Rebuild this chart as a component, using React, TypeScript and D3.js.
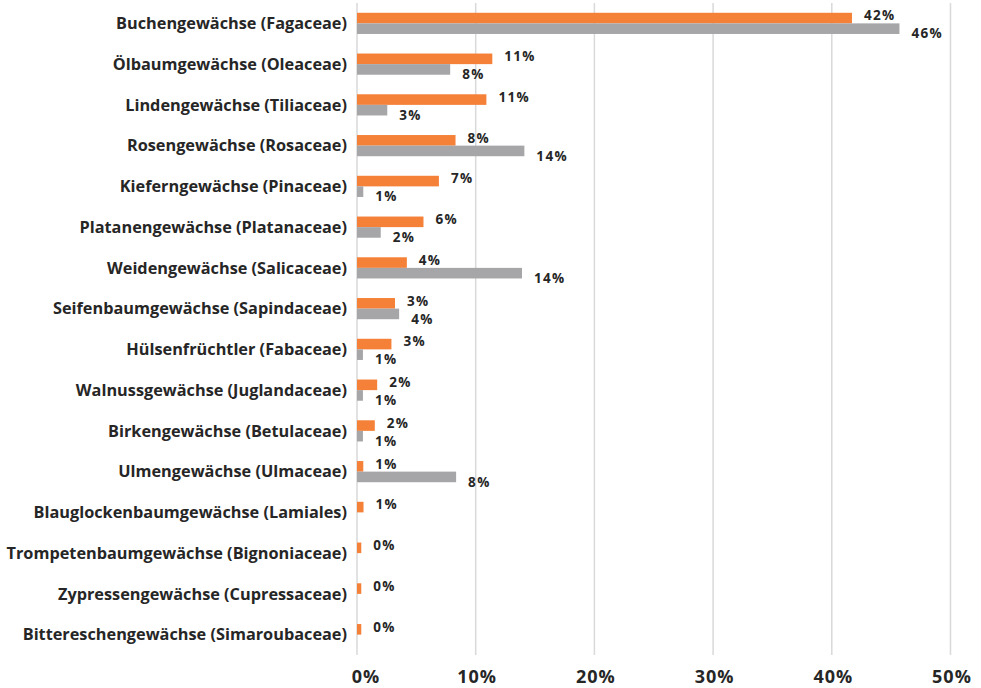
import { useEffect, useRef } from "react";
import * as d3 from "d3";

const categories = [
  "Buchengewächse (Fagaceae)",
  "Ölbaumgewächse (Oleaceae)",
  "Lindengewächse (Tiliaceae)",
  "Rosengewächse (Rosaceae)",
  "Kieferngewächse (Pinaceae)",
  "Platanengewächse (Platanaceae)",
  "Weidengewächse (Salicaceae)",
  "Seifenbaumgewächse (Sapindaceae)",
  "Hülsenfrüchtler (Fabaceae)",
  "Walnussgewächse (Juglandaceae)",
  "Birkengewächse (Betulaceae)",
  "Ulmengewächse (Ulmaceae)",
  "Blauglockenbaumgewächse (Lamiales)",
  "Trompetenbaumgewächse (Bignoniaceae)",
  "Zypressengewächse (Cupressaceae)",
  "Bittereschengewächse (Simaroubaceae)",
];

// orange series
const seriesA = [41.7, 11.4, 10.9, 8.3, 6.9, 5.6, 4.2, 3.2, 2.9, 1.7, 1.5, 0.53, 0.55, 0.36, 0.36, 0.36];
// gray series (null = no value)
const seriesB: (number | null)[] = [45.7, 7.85, 2.55, 14.1, 0.53, 2.0, 13.9, 3.55, 0.5, 0.5, 0.5, 8.35, null, null, null, null];

const xTicks = [0, 10, 20, 30, 40, 50];

const ORANGE = "#F58138";
const GRAY = "#A6A6A9";
const TEXT = "#262626";

export default function App() {
  const svgRef = useRef<SVGSVGElement>(null);

  useEffect(() => {
    document.body.style.margin = "0";
    const svgEl = svgRef.current;
    if (!svgEl) return;
    const width = 981;
    const height = 688;
    const margin = { top: 3, right: 28, bottom: 33, left: 357 };

    const svg = d3.select(svgEl);
    svg.selectAll("*").remove();
    svg.attr("viewBox", `0 0 ${width} ${height}`);

    const innerW = width - margin.left - margin.right;
    const innerH = height - margin.top - margin.bottom;
    const g = svg.append("g").attr("transform", `translate(${margin.left},${margin.top})`);

    const x = d3.scaleLinear().domain([0, 50]).range([0, innerW * 0.9958]);
    const y = d3.scaleBand<string>().domain(categories).range([0, innerH]).paddingInner(0.48).paddingOuter(0.24);
    const sub = d3.scaleBand<string>().domain(["a", "b"]).range([0, y.bandwidth()]);

    // gridlines
    g.selectAll(".grid")
      .data(xTicks)
      .join("line")
      .attr("x1", (d) => x(d))
      .attr("x2", (d) => x(d))
      .attr("y1", 0)
      .attr("y2", innerH)
      .attr("stroke", "#D9D9D9")
      .attr("stroke-width", 1.5);

    // tick labels
    g.selectAll(".tick-label")
      .data(xTicks)
      .join("text")
      .attr("x", (d) => x(d) + (d === 0 ? 9 : 1.5))
      .attr("y", innerH + 22)
      .attr("dy", "0.35em")
      .attr("text-anchor", "middle")
      .attr("font-family", "'Open Sans', sans-serif")
      .attr("font-weight", 700)
      .attr("font-size", 18)
      .attr("letter-spacing", 1)
      .attr("fill", TEXT)
      .text((d) => `${d}%`);

    // category labels
    g.selectAll(".cat")
      .data(categories)
      .join("text")
      .attr("x", -10)
      .attr("y", (d) => (y(d) ?? 0) + y.bandwidth() / 2)
      .attr("dy", "0.35em")
      .attr("text-anchor", "end")
      .attr("font-family", "'Open Sans', sans-serif")
      .attr("font-weight", 700)
      .attr("font-size", 16.3)
      .attr("fill", TEXT)
      .text((d) => d);

    const valueLabel = (v: number) => `${Math.round(v)}%`;

    // orange bars
    g.selectAll(".bar-a")
      .data(seriesA)
      .join("rect")
      .attr("x", x(0))
      .attr("y", (_, i) => (y(categories[i]) ?? 0) + (sub("a") ?? 0))
      .attr("width", (d) => x(d) - x(0))
      .attr("height", sub.bandwidth())
      .attr("fill", ORANGE);

    // gray bars
    const bData = seriesB.map((v, i) => ({ v, i })).filter((d) => d.v != null) as { v: number; i: number }[];
    g.selectAll(".bar-b")
      .data(bData)
      .join("rect")
      .attr("x", x(0))
      .attr("y", (d) => (y(categories[d.i]) ?? 0) + (sub("b") ?? 0))
      .attr("width", (d) => x(d.v) - x(0))
      .attr("height", sub.bandwidth())
      .attr("fill", GRAY);

    // value labels
    const labelStyle = (sel: d3.Selection<any, any, any, any>) =>
      sel
        .attr("font-family", "'Open Sans', sans-serif")
        .attr("font-weight", 700)
        .attr("font-size", 13.5)
        .attr("letter-spacing", 1.3)
        .attr("fill", TEXT)
        .attr("dy", "0.35em");

    g.selectAll(".lab-a")
      .data(seriesA)
      .join("text")
      .attr("x", (d) => x(d) + 12)
      .attr("y", (_, i) => (y(categories[i]) ?? 0) + (sub("a") ?? 0) + sub.bandwidth() / 2 - 2.5)
      .call(labelStyle)
      .text((d) => valueLabel(d));

    g.selectAll(".lab-b")
      .data(bData)
      .join("text")
      .attr("x", (d) => x(d.v) + 12)
      .attr("y", (d) => (y(categories[d.i]) ?? 0) + (sub("b") ?? 0) + sub.bandwidth() / 2 + 5)
      .call(labelStyle)
      .text((d) => valueLabel(d.v));
  }, []);

  return <svg ref={svgRef} width={981} height={688} style={{ display: "block" }} />;
}
